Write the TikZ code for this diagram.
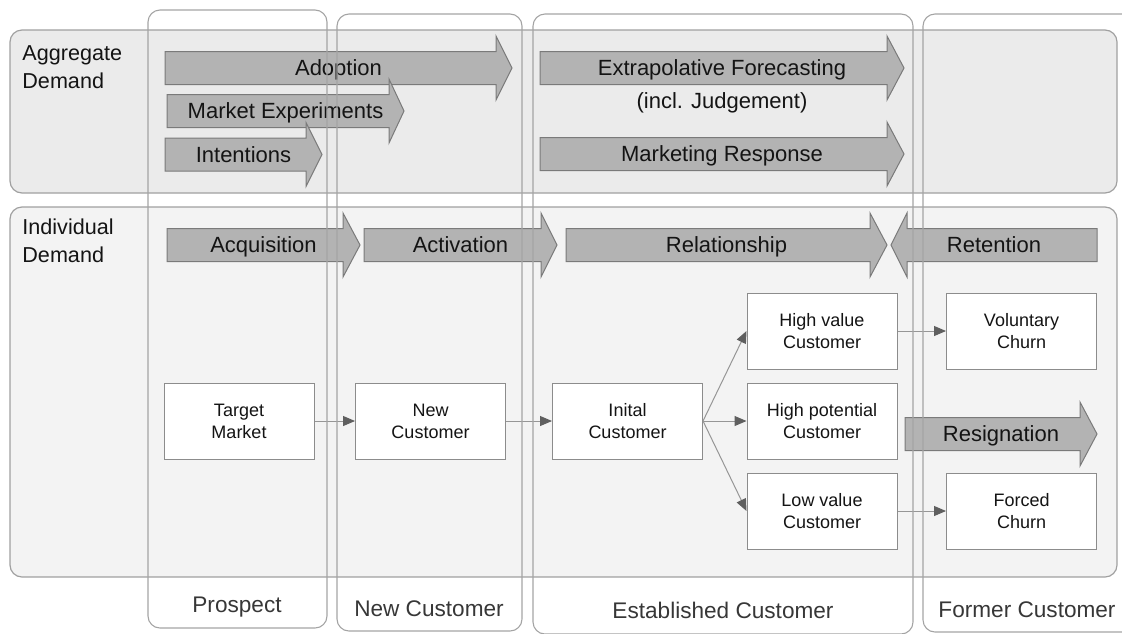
\documentclass[tikz,border=0pt]{standalone}
\usepackage{fontspec}
\setmainfont{Liberation Sans}
\usetikzlibrary{arrows.meta}
\definecolor{aggfill}{HTML}{EBEBEB}
\definecolor{indfill}{HTML}{F3F3F3}
\definecolor{panelline}{HTML}{A0A0A0}
\definecolor{lanel}{HTML}{A4A4A4}
\definecolor{arrfill}{HTML}{B3B3B3}
\definecolor{arrline}{HTML}{7A7A7A}
\definecolor{boxline}{HTML}{8C8C8C}
\definecolor{conline}{HTML}{969696}
\definecolor{tipcol}{HTML}{5F5F5F}
\definecolor{txt}{HTML}{141414}
\newcommand{\flowarrow}[6]{% name, tail x, head base x, tip x, centre y, text
  \draw[flowarr] ({#2},{#5-16.5}) -- ({#3},{#5-16.5}) -- ({#3},{#5-32}) -- ({#4},{#5})
     -- ({#3},{#5+32}) -- ({#3},{#5+16.5}) -- ({#2},{#5+16.5}) -- cycle;
  \node[flowtext] (#1) at ({(#2+#4)/2},{#5+7.5}) {#6};}
\begin{document}
\begin{tikzpicture}[x=0.5pt,y=-0.5pt,
  panel/.style={draw=panelline, line width=0.6pt, rounded corners=6pt},
  lane/.style={draw=lanel, line width=0.55pt, rounded corners=6pt},
  flowarr/.style={fill=arrfill, draw=arrline, line width=0.5pt},
  flowtext/.style={anchor=base, inner sep=0pt, font=\fontsize{11}{13}\selectfont, text=txt},
  sidetext/.style={anchor=north west, inner sep=0pt, align=left, font=\fontsize{10.8}{14}\selectfont, text=txt},
  lanetext/.style={anchor=base, inner sep=0pt, font=\fontsize{11.3}{13}\selectfont, text=txt!85},
  stagebox/.style={draw=boxline, fill=white, line width=0.5pt, minimum width=75pt, minimum height=38pt,
     align=center, inner sep=0pt, font=\fontsize{9}{11}\selectfont, text=txt},
  conn/.style={draw=conline, line width=0.5pt, -{Triangle[length=6pt,width=5pt,color=tipcol]}}
]
\useasboundingbox (0,0) rectangle (1122,633);
\clip (0,0) rectangle (1122,633);
% panels
\draw[panel, fill=aggfill] (10,30) rectangle (1117,193);
\draw[panel, fill=indfill] (10,207) rectangle (1117,577);
\node[sidetext] (agg) at (22,45) {Aggregate\\Demand};
\node[sidetext] (ind) at (22,218) {Individual\\Demand};
% aggregate arrows
\flowarrow{adoption}{165}{496}{512}{68}{Adoption}
\flowarrow{mexp}{167}{389}{404}{111}{Market Experiments}
\flowarrow{intent}{165}{306}{322}{154.5}{Intentions}
\flowarrow{extra}{540}{887}{904}{68}{Extrapolative Forecasting}
\node[flowtext] (judge) at (722,108) {(incl. Judgement)};
\flowarrow{mresp}{540}{887}{904}{154}{Marketing Response}
% individual arrows
\flowarrow{acq}{167}{343}{360}{245}{Acquisition}
\flowarrow{act}{364}{541}{557}{245}{Activation}
\flowarrow{rel}{566}{870}{887}{245}{Relationship}
\flowarrow{ret}{1097}{907}{891}{245}{Retention}
\flowarrow{resig}{905}{1080}{1097}{434}{Resignation}
% boxes
\node[stagebox] (tm) at (239,421) {Target\\Market};
\node[stagebox] (nc) at (430.5,421) {New\\Customer};
\node[stagebox] (ic) at (627.5,421) {Inital\\Customer};
\node[stagebox] (hv) at (822,331) {High value\\Customer};
\node[stagebox] (hp) at (822,421) {High potential\\Customer};
\node[stagebox] (lv) at (822,511) {Low value\\Customer};
\node[stagebox] (vc) at (1021.5,331) {Voluntary\\Churn};
\node[stagebox] (fc) at (1021.5,511) {Forced\\Churn};
% connectors
\draw[conn] (tm) -- (nc);
\draw[conn] (nc) -- (ic);
\draw[conn] (ic.east) -- (hv.west);
\draw[conn] (ic) -- (hp);
\draw[conn] (ic.east) -- (lv.west);
\draw[conn] (hv) -- (vc);
\draw[conn] (lv) -- (fc);
% lanes
\draw[lane] (148,10) rectangle (327,628);
\draw[lane] (337,14) rectangle (522,631);
\draw[lane] (533,14) rectangle (913,634);
\draw[lane] (923,14) rectangle (1160,632);
\node[lanetext] (lp) at (237,612) {Prospect};
\node[lanetext] (ln) at (429,616) {New Customer};
\node[lanetext] (le) at (723,618) {Established Customer};
\node[lanetext] (lf) at (1027,617) {Former Customer};
\end{tikzpicture}
\end{document}
